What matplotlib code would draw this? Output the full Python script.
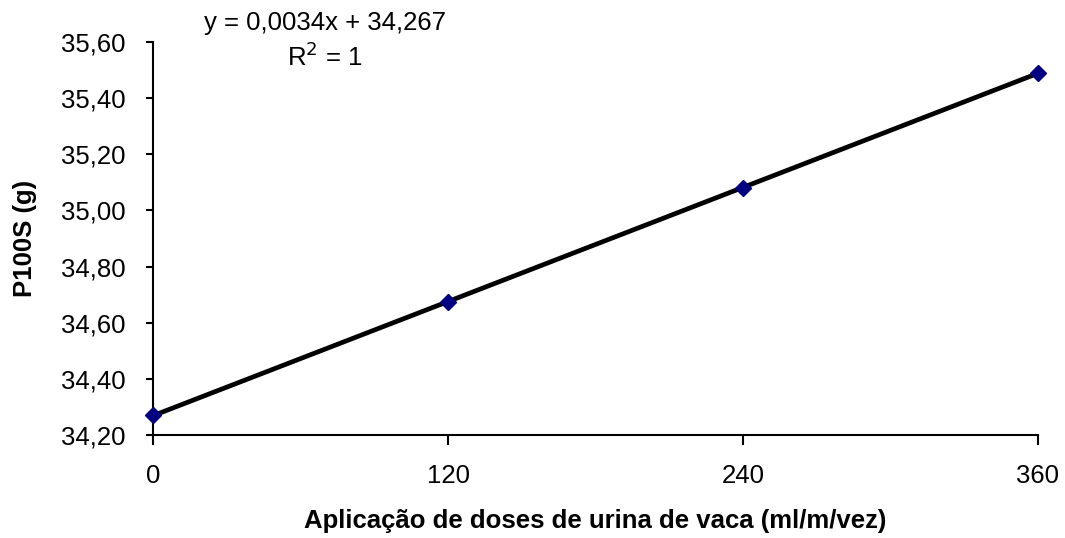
import matplotlib.pyplot as plt
import numpy as np

plt.rcParams['font.family'] = ['Liberation Sans', 'DejaVu Sans']

# doses (ml/m/vez) and P100S (g)
doses = [0, 120, 240, 360]
p100s = [34.27, 34.675, 35.08, 35.49]
yticks = [34.20, 34.40, 34.60, 34.80, 35.00, 35.20, 35.40, 35.60]
xticks = [0, 120, 240, 360]

fig = plt.figure(figsize=(10.65, 5.38), dpi=100)
ax = fig.add_axes([0.1437, 0.1914, 0.8309, 0.7305])

# linear trend line
coef = np.polyfit(doses, p100s, 1)
xs = np.array([doses[0], doses[-1]])
ax.plot(xs, np.polyval(coef, xs), color='black', lw=3.4, zorder=2)
ax.plot(doses, p100s, linestyle='none', marker='D', ms=8.5,
        color='#000080', zorder=3, clip_on=False)

ax.set_xlim(0, 360)
ax.set_ylim(34.20, 35.60)
ax.set_xticks(xticks)
ax.set_xticklabels([str(x) for x in xticks])
ax.set_yticks(yticks)
ax.set_yticklabels([f'{y:.2f}'.replace('.', ',') for y in yticks])

for s in ['top', 'right']:
    ax.spines[s].set_visible(False)
for s in ['left', 'bottom']:
    ax.spines[s].set_linewidth(1.5)
ax.tick_params(axis='y', direction='out', length=5, width=1.5, labelsize=18.5, pad=15)
ax.tick_params(axis='x', direction='out', length=7, width=1.5, labelsize=18.5, pad=14)

ax.set_xlabel('Aplicação de doses de urina de vaca (ml/m/vez)', fontsize=18.5,
              fontweight='bold', labelpad=15)
ax.set_ylabel('P100S (g)', fontsize=18.5, fontweight='bold', labelpad=17)

fig.text(0.305, 0.958, 'y = 0,0034x + 34,267', fontsize=18.5, ha='center', va='center')
fig.text(0.305, 0.895, 'R$^2$ = 1', fontsize=18.5, ha='center', va='center')

fig.savefig('out.png', dpi=100)
